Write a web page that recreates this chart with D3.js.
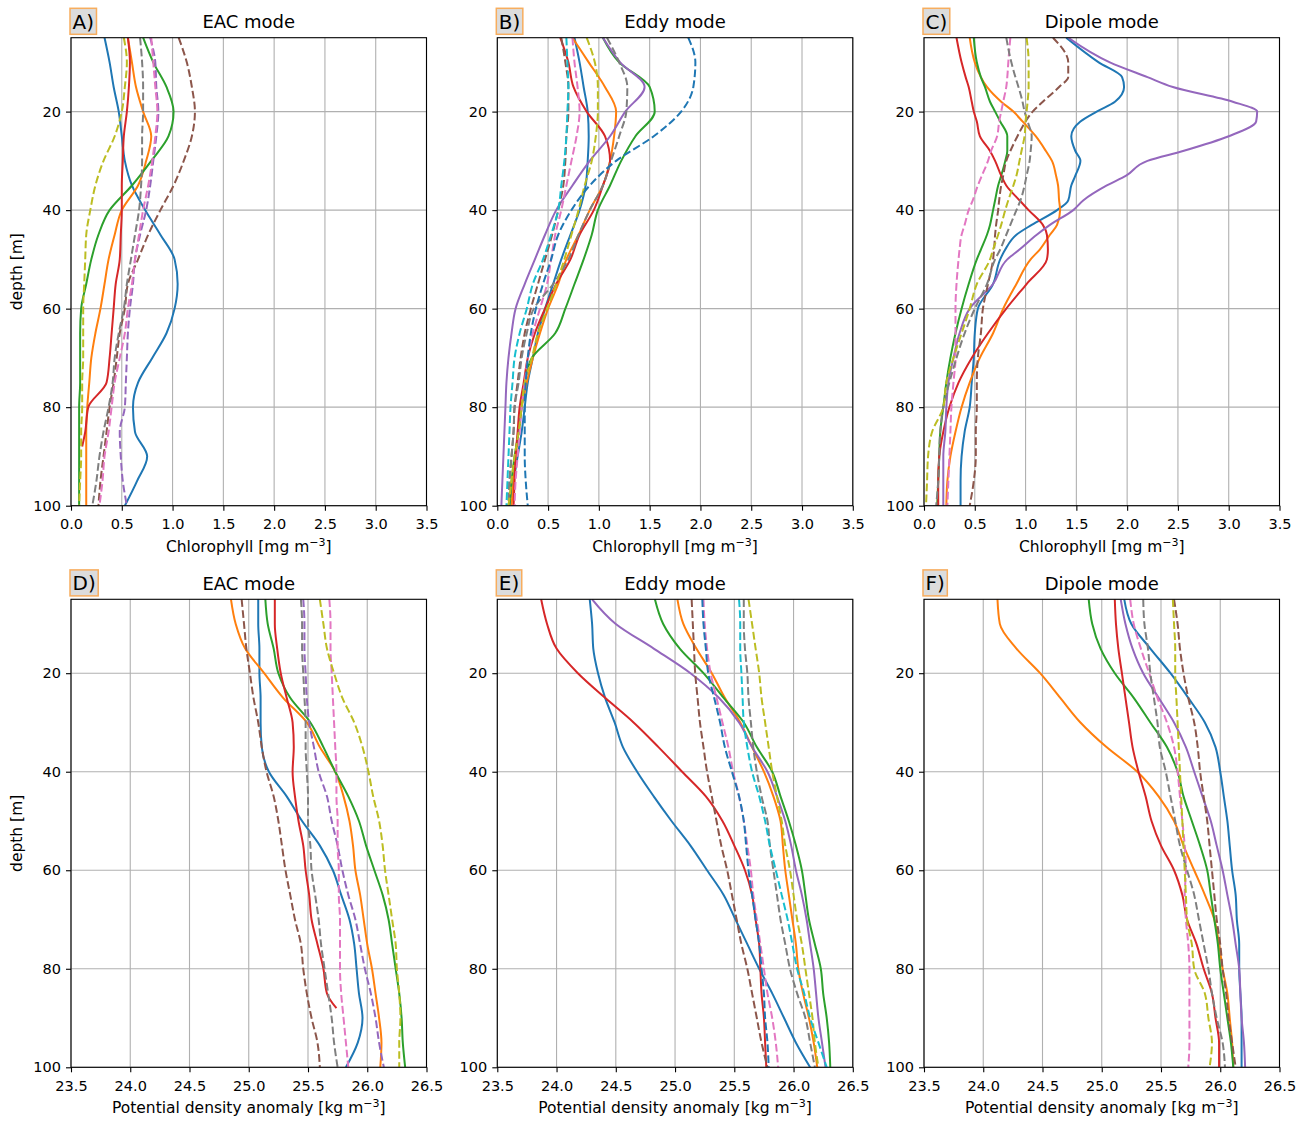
<!DOCTYPE html>
<html>
<head>
<meta charset="utf-8">
<script src="https://cdnjs.cloudflare.com/ajax/libs/d3/7.8.5/d3.min.js"></script>
<style>
  body { margin: 0; background: #fff; }
  svg text { font-family: "DejaVu Sans", sans-serif; fill: #000; }
</style>
</head>
<body>
<div id="fig"></div>
<script>
const width = 1304;
const height = 1121;

// depth grids [m]
const depths = [5, 10, 15, 20, 25, 30, 35, 40, 45, 50, 55, 60, 65, 70, 75, 80, 85, 90, 95, 100];
const depthsEacRed = [5, 10, 15, 20, 25, 30, 35, 40, 45, 50, 55, 60, 65, 70, 75, 80, 85, 88];
const depthsDipoleChl = [5, 10, 13, 15, 18, 20, 22, 25, 28, 30, 33, 35, 38, 40, 43, 45, 48, 50, 55, 60, 65, 70, 75, 80, 85, 90, 95, 100];

const chlTicks = [0, 0.5, 1.0, 1.5, 2.0, 2.5, 3.0, 3.5];
const rhoTicks = [23.5, 24.0, 24.5, 25.0, 25.5, 26.0, 26.5];
const depthTicks = [20, 40, 60, 80, 100];

// matplotlib default colour cycle
const tab10 = ["#1f77b4", "#ff7f0e", "#2ca02c", "#d62728", "#9467bd",
               "#8c564b", "#e377c2", "#7f7f7f", "#bcbd22", "#17becf"];

// A) chlorophyll, EAC mode (blue, orange, green, red | purple, brown, pink, gray, olive dashed)
const chlEac = [
  [0.33, 0.38, 0.42, 0.47, 0.5, 0.53, 0.6, 0.73, 0.88, 1.02, 1.05, 1.02, 0.94, 0.8, 0.66, 0.61, 0.63, 0.75, 0.65, 0.53],
  [0.56, 0.6, 0.64, 0.71, 0.79, 0.74, 0.66, 0.5, 0.43, 0.37, 0.33, 0.29, 0.24, 0.2, 0.18, 0.16, 0.15, 0.15, 0.15, 0.15],
  [0.71, 0.81, 0.94, 1.01, 0.96, 0.79, 0.6, 0.38, 0.27, 0.2, 0.15, 0.1, 0.09, 0.09, 0.09, 0.08, 0.08, 0.08, 0.08, 0.08],
  [0.56, 0.58, 0.57, 0.55, 0.52, 0.51, 0.5, 0.5, 0.49, 0.48, 0.44, 0.42, 0.4, 0.38, 0.35, 0.17, 0.14, 0.11],
  [0.78, 0.83, 0.84, 0.86, 0.84, 0.81, 0.78, 0.74, 0.68, 0.63, 0.61, 0.58, 0.56, 0.55, 0.54, 0.53, 0.48, 0.49, 0.51, 0.55],
  [1.06, 1.14, 1.19, 1.22, 1.19, 1.11, 1.01, 0.88, 0.76, 0.66, 0.56, 0.53, 0.48, 0.45, 0.42, 0.38, 0.35, 0.32, 0.29, 0.27],
  [0.79, 0.81, 0.83, 0.85, 0.83, 0.8, 0.76, 0.71, 0.67, 0.63, 0.6, 0.56, 0.53, 0.48, 0.43, 0.4, 0.37, 0.33, 0.31, 0.28],
  [0.68, 0.7, 0.71, 0.71, 0.7, 0.7, 0.69, 0.67, 0.63, 0.59, 0.55, 0.52, 0.47, 0.43, 0.41, 0.37, 0.32, 0.28, 0.25, 0.21],
  [0.52, 0.55, 0.53, 0.5, 0.43, 0.32, 0.24, 0.19, 0.15, 0.14, 0.13, 0.12, 0.12, 0.12, 0.11, 0.11, 0.1, 0.1, 0.09, 0.08]
];

// B) chlorophyll, Eddy mode (blue..purple solid | brown, pink, gray, olive, cyan, blue dashed)
const chlEddy = [
  [0.76, 0.81, 0.85, 0.89, 0.9, 0.89, 0.87, 0.81, 0.72, 0.63, 0.55, 0.47, 0.4, 0.35, 0.3, 0.27, 0.24, 0.2, 0.16, 0.12],
  [0.74, 0.9, 1.06, 1.17, 1.15, 1.11, 1.04, 0.91, 0.8, 0.68, 0.6, 0.5, 0.42, 0.35, 0.29, 0.24, 0.21, 0.18, 0.16, 0.14],
  [1.04, 1.2, 1.5, 1.55, 1.36, 1.22, 1.11, 0.99, 0.93, 0.85, 0.76, 0.67, 0.57, 0.34, 0.27, 0.24, 0.21, 0.17, 0.14, 0.12],
  [0.62, 0.7, 0.75, 0.88, 1.06, 1.11, 1.04, 0.95, 0.81, 0.72, 0.58, 0.47, 0.37, 0.3, 0.26, 0.22, 0.2, 0.18, 0.17, 0.16],
  [1.04, 1.21, 1.45, 1.26, 1.11, 0.91, 0.74, 0.58, 0.47, 0.37, 0.27, 0.18, 0.14, 0.11, 0.09, 0.08, 0.07, 0.06, 0.05, 0.04],
  [0.63, 0.67, 0.7, 0.7, 0.68, 0.67, 0.65, 0.6, 0.54, 0.47, 0.4, 0.33, 0.27, 0.23, 0.2, 0.17, 0.16, 0.14, 0.12, 0.11],
  [0.74, 0.76, 0.79, 0.81, 0.78, 0.73, 0.68, 0.63, 0.57, 0.53, 0.49, 0.42, 0.35, 0.3, 0.27, 0.24, 0.22, 0.2, 0.18, 0.17],
  [1.08, 1.2, 1.28, 1.27, 1.2, 1.12, 1.04, 0.91, 0.8, 0.7, 0.55, 0.36, 0.29, 0.24, 0.21, 0.17, 0.16, 0.14, 0.12, 0.11],
  [0.88, 0.96, 0.99, 0.99, 0.97, 0.93, 0.86, 0.8, 0.73, 0.66, 0.58, 0.49, 0.4, 0.34, 0.27, 0.24, 0.21, 0.17, 0.14, 0.11],
  [0.68, 0.69, 0.7, 0.69, 0.68, 0.66, 0.63, 0.6, 0.53, 0.45, 0.35, 0.29, 0.22, 0.17, 0.15, 0.13, 0.12, 0.11, 0.1, 0.09],
  [1.88, 1.95, 1.93, 1.81, 1.54, 1.17, 0.91, 0.73, 0.6, 0.53, 0.45, 0.38, 0.33, 0.3, 0.28, 0.27, 0.27, 0.27, 0.28, 0.3]
];

// C) chlorophyll, Dipole mode (blue..purple solid | brown, pink, gray, olive dashed), on depthsDipoleChl
const chlDipole = [
  [1.4, 1.72, 1.95, 1.97, 1.88, 1.7, 1.54, 1.45, 1.49, 1.54, 1.49, 1.45, 1.42, 1.31, 1.06, 0.91, 0.8, 0.75, 0.68, 0.53, 0.5, 0.49, 0.47, 0.45, 0.4, 0.37, 0.36, 0.36],
  [0.45, 0.5, 0.56, 0.62, 0.76, 0.88, 0.97, 1.1, 1.2, 1.26, 1.3, 1.32, 1.33, 1.34, 1.31, 1.24, 1.14, 1.05, 0.91, 0.78, 0.68, 0.55, 0.45, 0.37, 0.31, 0.26, 0.23, 0.22],
  [0.49, 0.52, 0.56, 0.6, 0.65, 0.7, 0.75, 0.82, 0.82, 0.8, 0.76, 0.73, 0.7, 0.68, 0.65, 0.62, 0.56, 0.52, 0.44, 0.37, 0.31, 0.26, 0.22, 0.19, 0.16, 0.15, 0.14, 0.13],
  [0.32, 0.37, 0.41, 0.44, 0.47, 0.49, 0.52, 0.55, 0.65, 0.7, 0.76, 0.81, 0.94, 1.03, 1.17, 1.21, 1.22, 1.21, 1.01, 0.81, 0.63, 0.47, 0.34, 0.25, 0.19, 0.15, 0.14, 0.14],
  [1.42, 1.83, 2.2, 2.45, 3.04, 3.28, 3.27, 3.0, 2.55, 2.2, 1.99, 1.8, 1.57, 1.47, 1.24, 1.11, 0.94, 0.82, 0.68, 0.45, 0.35, 0.29, 0.24, 0.22, 0.21, 0.19, 0.19, 0.19],
  [1.27, 1.42, 1.42, 1.33, 1.17, 1.07, 1.0, 0.92, 0.85, 0.81, 0.78, 0.76, 0.74, 0.73, 0.71, 0.7, 0.69, 0.68, 0.63, 0.58, 0.56, 0.53, 0.52, 0.52, 0.51, 0.51, 0.49, 0.45],
  [0.85, 0.83, 0.82, 0.81, 0.78, 0.76, 0.74, 0.72, 0.66, 0.63, 0.57, 0.53, 0.48, 0.44, 0.4, 0.37, 0.35, 0.34, 0.32, 0.31, 0.31, 0.31, 0.29, 0.27, 0.26, 0.25, 0.24, 0.23],
  [0.81, 0.86, 0.9, 0.93, 0.97, 0.99, 1.02, 1.06, 1.05, 1.04, 1.01, 0.99, 0.95, 0.91, 0.85, 0.81, 0.75, 0.7, 0.62, 0.5, 0.4, 0.32, 0.25, 0.19, 0.16, 0.15, 0.14, 0.12],
  [1.01, 1.03, 1.03, 1.03, 1.02, 1.01, 1.0, 0.99, 0.96, 0.94, 0.91, 0.88, 0.83, 0.8, 0.76, 0.73, 0.68, 0.65, 0.52, 0.45, 0.37, 0.29, 0.22, 0.19, 0.08, 0.04, 0.03, 0.02]
];

// D) potential density anomaly, EAC mode
const rhoEac = [
  [25.08, 25.08, 25.09, 25.09, 25.1, 25.1, 25.11, 25.17, 25.32, 25.45, 25.6, 25.71, 25.78, 25.85, 25.89, 25.91, 25.93, 25.96, 25.92, 25.82],
  [24.85, 24.89, 24.97, 25.13, 25.29, 25.49, 25.6, 25.73, 25.8, 25.85, 25.88, 25.9, 25.94, 25.97, 26.0, 26.04, 26.07, 26.1, 26.12, 26.11],
  [25.14, 25.16, 25.21, 25.25, 25.35, 25.52, 25.63, 25.73, 25.84, 25.93, 25.99, 26.06, 26.13, 26.18, 26.21, 26.24, 26.27, 26.29, 26.3, 26.32],
  [25.22, 25.22, 25.24, 25.27, 25.32, 25.37, 25.38, 25.37, 25.39, 25.42, 25.46, 25.48, 25.51, 25.53, 25.58, 25.63, 25.66, 25.74],
  [25.46, 25.47, 25.47, 25.48, 25.49, 25.51, 25.55, 25.59, 25.66, 25.7, 25.75, 25.79, 25.84, 25.9, 25.94, 25.98, 26.03, 26.07, 26.1, 26.14],
  [24.94, 24.96, 24.98, 25.01, 25.04, 25.08, 25.11, 25.15, 25.21, 25.25, 25.28, 25.31, 25.35, 25.39, 25.44, 25.46, 25.49, 25.53, 25.58, 25.6],
  [25.68, 25.69, 25.69, 25.7, 25.71, 25.72, 25.73, 25.74, 25.74, 25.75, 25.75, 25.76, 25.76, 25.77, 25.77, 25.77, 25.78, 25.8, 25.82, 25.84],
  [25.44, 25.45, 25.45, 25.46, 25.47, 25.48, 25.48, 25.49, 25.5, 25.5, 25.52, 25.53, 25.56, 25.59, 25.61, 25.64, 25.67, 25.7, 25.72, 25.75],
  [25.6, 25.63, 25.66, 25.72, 25.79, 25.89, 25.96, 26.01, 26.05, 26.1, 26.13, 26.15, 26.18, 26.21, 26.24, 26.25, 26.27, 26.28, 26.27, 26.27]
];

// E) potential density anomaly, Eddy mode
const rhoEddy = [
  [24.28, 24.3, 24.31, 24.35, 24.41, 24.49, 24.56, 24.68, 24.82, 24.97, 25.13, 25.27, 25.41, 25.51, 25.61, 25.71, 25.82, 25.92, 26.02, 26.14],
  [25.02, 25.07, 25.18, 25.31, 25.42, 25.55, 25.65, 25.75, 25.83, 25.89, 25.91, 25.93, 25.96, 25.99, 26.02, 26.04, 26.08, 26.13, 26.17, 26.2],
  [24.83, 24.9, 25.04, 25.24, 25.41, 25.58, 25.69, 25.82, 25.89, 25.96, 26.02, 26.07, 26.1, 26.13, 26.18, 26.23, 26.25, 26.28, 26.3, 26.31],
  [23.87, 23.92, 24.0, 24.18, 24.41, 24.65, 24.86, 25.06, 25.26, 25.4, 25.5, 25.59, 25.65, 25.68, 25.71, 25.72, 25.73, 25.75, 25.76, 25.77],
  [24.3, 24.5, 24.82, 25.13, 25.37, 25.54, 25.65, 25.78, 25.86, 25.93, 25.98, 26.02, 26.07, 26.11, 26.14, 26.17, 26.19, 26.21, 26.24, 26.27],
  [25.14, 25.15, 25.16, 25.17, 25.19, 25.21, 25.24, 25.27, 25.31, 25.35, 25.39, 25.44, 25.48, 25.52, 25.56, 25.61, 25.65, 25.69, 25.73, 25.78],
  [25.24, 25.25, 25.27, 25.3, 25.35, 25.4, 25.45, 25.49, 25.54, 25.58, 25.61, 25.64, 25.66, 25.69, 25.72, 25.75, 25.78, 25.82, 25.85, 25.87],
  [25.58, 25.58, 25.59, 25.61, 25.62, 25.64, 25.66, 25.69, 25.73, 25.78, 25.8, 25.83, 25.86, 25.89, 25.93, 25.97, 26.03, 26.1, 26.14, 26.18],
  [25.62, 25.65, 25.68, 25.71, 25.73, 25.76, 25.79, 25.82, 25.86, 25.9, 25.93, 25.97, 26.0, 26.03, 26.07, 26.1, 26.13, 26.16, 26.18, 26.21],
  [25.54, 25.55, 25.55, 25.56, 25.57, 25.58, 25.61, 25.65, 25.71, 25.76, 25.8, 25.85, 25.9, 25.95, 25.99, 26.03, 26.09, 26.14, 26.21, 26.28],
  [25.23, 25.24, 25.26, 25.28, 25.33, 25.38, 25.42, 25.48, 25.54, 25.58, 25.6, 25.62, 25.65, 25.68, 25.71, 25.73, 25.75, 25.76, 25.78, 25.79]
];

// F) potential density anomaly, Dipole mode
const rhoDipole = [
  [25.19, 25.25, 25.41, 25.58, 25.73, 25.87, 25.96, 26.0, 26.03, 26.06, 26.08, 26.1, 26.13, 26.14, 26.16, 26.16, 26.17, 26.18, 26.18, 26.18],
  [24.12, 24.14, 24.28, 24.48, 24.65, 24.82, 25.04, 25.3, 25.48, 25.61, 25.69, 25.78, 25.87, 25.95, 25.99, 26.02, 26.06, 26.08, 26.1, 26.11],
  [24.89, 24.92, 24.99, 25.11, 25.27, 25.41, 25.55, 25.64, 25.69, 25.76, 25.83, 25.89, 25.92, 25.95, 25.98, 26.0, 26.03, 26.06, 26.09, 26.11],
  [25.11, 25.12, 25.14, 25.17, 25.2, 25.23, 25.26, 25.31, 25.37, 25.42, 25.5, 25.61, 25.68, 25.72, 25.8, 25.86, 25.93, 25.96, 25.99, 25.99],
  [25.16, 25.2, 25.26, 25.35, 25.48, 25.61, 25.71, 25.78, 25.85, 25.92, 25.97, 26.02, 26.06, 26.1, 26.13, 26.16, 26.17, 26.18, 26.2, 26.21],
  [25.61, 25.64, 25.66, 25.69, 25.73, 25.78, 25.81, 25.83, 25.86, 25.89, 25.91, 25.93, 25.95, 25.97, 26.0, 26.02, 26.05, 26.07, 26.1, 26.13],
  [25.24, 25.27, 25.33, 25.4, 25.47, 25.55, 25.61, 25.64, 25.66, 25.68, 25.7, 25.71, 25.7, 25.71, 25.73, 25.74, 25.74, 25.74, 25.74, 25.73],
  [25.35, 25.36, 25.39, 25.41, 25.44, 25.47, 25.49, 25.54, 25.58, 25.62, 25.66, 25.72, 25.78, 25.82, 25.86, 25.9, 25.93, 25.97, 26.02, 26.04],
  [25.6, 25.61, 25.62, 25.62, 25.63, 25.64, 25.65, 25.66, 25.67, 25.68, 25.69, 25.7, 25.71, 25.72, 25.76, 25.78, 25.87, 25.9, 25.93, 25.91]
];

const panels = [
  { label: "A)", title: "EAC mode", kind: "chl", col: 0, row: 0, series: chlEac, firstDashed: 4, grid: depths, special: { 3: depthsEacRed } },
  { label: "B)", title: "Eddy mode", kind: "chl", col: 1, row: 0, series: chlEddy, firstDashed: 5, grid: depths, special: {} },
  { label: "C)", title: "Dipole mode", kind: "chl", col: 2, row: 0, series: chlDipole, firstDashed: 5, grid: depthsDipoleChl, special: {} },
  { label: "D)", title: "EAC mode", kind: "rho", col: 0, row: 1, series: rhoEac, firstDashed: 4, grid: depths, special: { 3: depthsEacRed } },
  { label: "E)", title: "Eddy mode", kind: "rho", col: 1, row: 1, series: rhoEddy, firstDashed: 5, grid: depths, special: {} },
  { label: "F)", title: "Dipole mode", kind: "rho", col: 2, row: 1, series: rhoDipole, firstDashed: 5, grid: depths, special: {} }
];

const colX = [71, 497.3, 924];
const rowY = [37.7, 599.3];
const pw = 355.5;
const ph = 468;

const svg = d3.select("#fig")
    .append("svg")
    .attr("width", width)
    .attr("height", height);

panels.forEach((p, pi) => {
    const x0 = colX[p.col];
    const y0 = rowY[p.row];
    const ticks = p.kind === "chl" ? chlTicks : rhoTicks;

    const x = d3.scaleLinear()
        .domain([ticks[0], ticks[ticks.length - 1]])
        .range([x0, x0 + pw]);
    const y = d3.scaleLinear().domain([5, 100]).range([y0, y0 + ph]);

    const g = svg.append("g");

    // grid
    g.selectAll(".gx").data(ticks).join("line")
        .attr("x1", d => x(d)).attr("x2", d => x(d))
        .attr("y1", y0).attr("y2", y0 + ph)
        .attr("stroke", "#b0b0b0").attr("stroke-width", 1.1);
    g.selectAll(".gy").data(depthTicks).join("line")
        .attr("x1", x0).attr("x2", x0 + pw)
        .attr("y1", d => y(d)).attr("y2", d => y(d))
        .attr("stroke", "#b0b0b0").attr("stroke-width", 1.1);

    // clip
    const clipId = "clip" + pi;
    svg.append("clipPath").attr("id", clipId)
        .append("rect").attr("x", x0).attr("y", y0).attr("width", pw).attr("height", ph);

    const line = d3.line()
        .x(d => x(d[1]))
        .y(d => y(d[0]))
        .curve(d3.curveMonotoneY);

    const lg = g.append("g").attr("clip-path", `url(#${clipId})`);
    p.series.forEach((vals, i) => {
        const dz = p.special[i] || p.grid;
        const pts = vals.map((v, k) => [dz[k], v]);
        lg.append("path")
            .attr("d", line(pts))
            .attr("fill", "none")
            .attr("stroke", tab10[i % 10])
            .attr("stroke-width", 2)
            .attr("stroke-dasharray", i >= p.firstDashed ? "7.7,3.3" : null);
    });

    // frame
    g.append("rect")
        .attr("x", x0).attr("y", y0).attr("width", pw).attr("height", ph)
        .attr("fill", "none").attr("stroke", "#000").attr("stroke-width", 1.1);

    // axes
    const ax = g.append("g")
        .attr("transform", `translate(0,${y0 + ph})`)
        .call(d3.axisBottom(x).tickValues(ticks).tickFormat(d3.format(".1f")).tickSize(5).tickPadding(8));
    const ay = g.append("g")
        .attr("transform", `translate(${x0},0)`)
        .call(d3.axisLeft(y).tickValues(depthTicks).tickFormat(d3.format("d")).tickSize(5).tickPadding(5));
    [ax, ay].forEach(a => {
        a.select(".domain").remove();
        a.attr("font-family", "DejaVu Sans").attr("font-size", 14.5);
        a.selectAll("line").attr("stroke", "#000").attr("stroke-width", 1.1);
    });

    // title
    g.append("text")
        .attr("x", x0 + pw / 2).attr("y", y0 - 9.5)
        .attr("text-anchor", "middle")
        .attr("font-size", 18)
        .text(p.title);

    // panel label in a box
    const lab = g.append("text")
        .attr("x", x0 + 1.5).attr("y", y0 - 9)
        .attr("font-size", 20)
        .text(p.label);
    const bb = lab.node().getBBox();
    g.insert("rect", () => lab.node())
        .attr("x", bb.x - 2.5).attr("y", y0 - 29.4)
        .attr("width", bb.width + 5).attr("height", 26)
        .attr("fill", "#dcdcdc")
        .attr("stroke", "#f7ad5e").attr("stroke-width", 1.5);

    // x label
    const xl = g.append("text")
        .attr("x", x0 + pw / 2).attr("y", y0 + ph + 46)
        .attr("text-anchor", "middle")
        .attr("font-size", 15.5);
    xl.append("tspan").text(p.kind === "chl" ? "Chlorophyll [mg m" : "Potential density anomaly [kg m");
    xl.append("tspan").attr("dy", -6).attr("font-size", 11).text("\u22123");
    xl.append("tspan").attr("dy", 6).text("]");

    // y label
    if (p.col === 0) {
        g.append("text")
            .attr("transform", `translate(17,${y0 + ph / 2}) rotate(-90)`)
            .attr("text-anchor", "middle")
            .attr("dy", "0.35em")
            .attr("font-size", 15.5)
            .text("depth [m]");
    }
});
</script>
</body>
</html>
